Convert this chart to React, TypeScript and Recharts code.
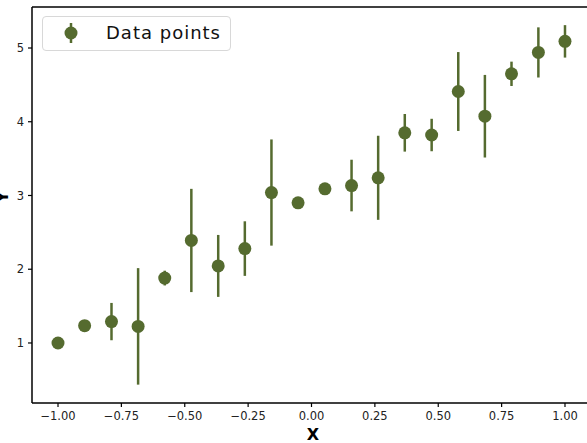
import React from 'react';
import { ScatterChart, Scatter, XAxis, YAxis, ErrorBar, ReferenceLine } from 'recharts';

const xValues = [-1.0, -0.895, -0.789, -0.684, -0.579, -0.474, -0.368, -0.263, -0.158, -0.053, 0.053, 0.158, 0.263, 0.368, 0.474, 0.579, 0.684, 0.789, 0.895, 1.0];
const yValues = [1.0, 1.235, 1.29, 1.225, 1.88, 2.39, 2.045, 2.28, 3.04, 2.9, 3.09, 3.135, 3.24, 3.85, 3.82, 4.41, 4.075, 4.65, 4.94, 5.09];
const yErrors = [0.03, 0.04, 0.253, 0.79, 0.1, 0.7, 0.42, 0.37, 0.72, 0.04, 0.03, 0.35, 0.57, 0.255, 0.22, 0.535, 0.56, 0.165, 0.34, 0.22];
const xTicks = [-1.0, -0.75, -0.5, -0.25, 0.0, 0.25, 0.5, 0.75, 1.0];
const yTicks = [1, 2, 3, 4, 5];
const seriesName = 'Data points';

const COLOR = '#556B2F';
const X_DOMAIN: [number, number] = [-1.1026, 1.1026];
const Y_DOMAIN: [number, number] = [0.186, 5.556];

const data = xValues.map((x, i) => ({ x, y: yValues[i], err: yErrors[i] }));

const fmtX = (v: number) => (v < 0 ? '\u2212' : '') + Math.abs(v).toFixed(2);

const Dot = (props: any) => {
  const { cx, cy } = props;
  if (cx == null || cy == null) return null;
  return <circle cx={cx} cy={cy} r={6.5} fill={COLOR} />;
};

const tickStyle = { fontSize: 11.5, fill: '#222', fontFamily: 'DejaVu Sans' };

export default function App() {
  return (
    <div style={{ position: 'absolute', left: 0, top: 0, width: 587, height: 443, overflow: 'hidden', background: '#fff' }}>
      <ScatterChart width={600} height={443} margin={{ top: 7, right: 9, bottom: 0, left: 0 }}>
        <XAxis
          type="number"
          dataKey="x"
          domain={X_DOMAIN}
          allowDataOverflow
          ticks={xTicks}
          interval={0}
          tickFormatter={fmtX}
          tickSize={4}
          tickMargin={5}
          height={40}
          tick={tickStyle}
          tickLine={{ stroke: '#000', strokeWidth: 1.2 }}
          axisLine={{ stroke: '#000', strokeWidth: 1.5 }}
          label={{
            content: () => (
              <text x={313} y={440} textAnchor="middle" fontFamily="DejaVu Sans" fontWeight="bold" fontSize={16} fill="#000">X</text>
            ),
          }}
        />
        <YAxis
          type="number"
          dataKey="y"
          domain={Y_DOMAIN}
          allowDataOverflow
          ticks={yTicks}
          interval={0}
          tickSize={4}
          tickMargin={4}
          width={32}
          tick={tickStyle}
          tickLine={{ stroke: '#000', strokeWidth: 1.2 }}
          axisLine={{ stroke: '#000', strokeWidth: 1.5 }}
          label={{
            content: () => (
              <text x={8} y={197} textAnchor="middle" transform="rotate(-90, 8, 197)" fontFamily="DejaVu Sans" fontWeight="bold" fontSize={16} fill="#000">Y</text>
            ),
          }}
        />
        <ReferenceLine y={Y_DOMAIN[1]} stroke="#000" strokeWidth={1.5} />
        <ReferenceLine x={X_DOMAIN[1]} stroke="#000" strokeWidth={1.5} />
        <Scatter name={seriesName} data={data} fill={COLOR} shape={<Dot />} isAnimationActive={false}>
          <ErrorBar dataKey="err" direction="y" width={0} stroke={COLOR} strokeWidth={2.5} isAnimationActive={false} />
        </Scatter>
      </ScatterChart>
      <div
        style={{
          position: 'absolute',
          left: 42,
          top: 16,
          width: 187,
          height: 33,
          border: '1px solid #d8d8d8',
          borderRadius: 4,
          background: 'rgba(255,255,255,0.8)',
        }}
      >
        <svg width={40} height={33} style={{ position: 'absolute', left: 8, top: 0 }}>
          <line x1={20} x2={20} y1={6} y2={26} stroke={COLOR} strokeWidth={2.5} />
          <circle cx={20} cy={16} r={6.5} fill={COLOR} />
        </svg>
        <span
          style={{
            position: 'absolute',
            left: 63,
            top: 4,
            fontFamily: 'DejaVu Sans',
            fontSize: 18,
            letterSpacing: 1,
            lineHeight: '24px',
            color: '#111',
            whiteSpace: 'nowrap',
          }}
        >
          {seriesName}
        </span>
      </div>
    </div>
  );
}
